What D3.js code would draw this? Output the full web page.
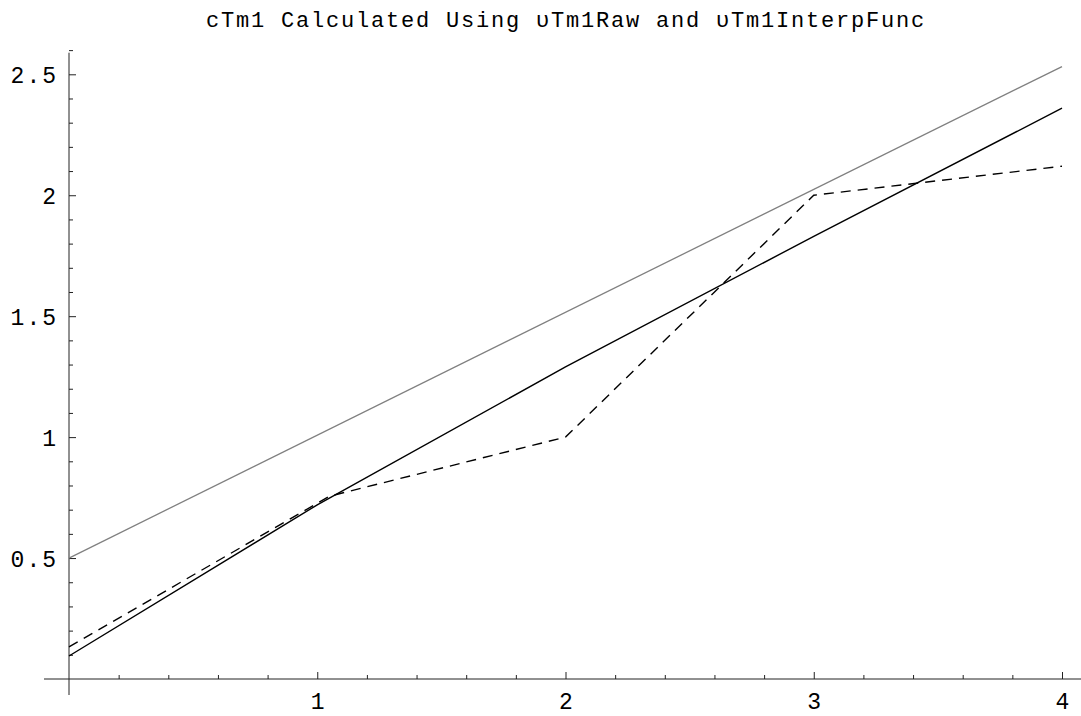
<!DOCTYPE html>
<html>
<head>
<meta charset="utf-8">
<script src="https://cdn.jsdelivr.net/npm/d3@7"></script>
<style>
  html, body { margin: 0; padding: 0; background: #fff; }
  svg { display: block; }
</style>
</head>
<body>
<svg id="chart" width="1081" height="716"></svg>
<script>
// Curve samples
const solidX = [0, 1, 2, 3, 4];
const solidY = [0.095, 0.72, 1.29, 1.83, 2.36];
const dashedX = [0, 1.05, 2, 3, 4];
const dashedY = [0.133, 0.756, 1.0, 2.0, 2.12];
const grayX = [0, 4];
const grayY = [0.5, 2.532];

// Axis ticks
const xMajor = [1, 2, 3, 4];
const xLabels = ["1", "2", "3", "4"];
const yMajor = [0.5, 1, 1.5, 2, 2.5];
const yLabels = ["0.5", "1", "1.5", "2", "2.5"];

const titleText = "cTm1 Calculated Using \u03C5Tm1Raw and \u03C5Tm1InterpFunc";

const svg = d3.select("#chart");

const x = d3.scaleLinear().domain([0, 4]).range([69, 1062]);
const y = d3.scaleLinear().domain([0, 2.5]).range([679, 74.3]);

const xMinor = d3.range(1, 21).map(i => i * 0.2).filter(v => !xMajor.some(m => Math.abs(m - v) < 1e-6));
const yMinor = d3.range(1, 27).map(i => i * 0.1).filter(v => !yMajor.some(m => Math.abs(m - v) < 1e-6));

const axisColor = "#222";
const fontFam = "'Liberation Mono', 'DejaVu Sans Mono', monospace";

// Axis lines
svg.append("line").attr("x1", 44).attr("x2", 1081).attr("y1", y(0)).attr("y2", y(0))
  .attr("stroke", axisColor).attr("stroke-width", 1);
svg.append("line").attr("x1", x(0)).attr("x2", x(0)).attr("y1", 52.7).attr("y2", 695)
  .attr("stroke", axisColor).attr("stroke-width", 1);

// X axis ticks (inward) and labels
const gx = svg.append("g").attr("transform", `translate(0,${y(0)})`);
gx.call(d3.axisBottom(x).tickValues(xMinor).tickSize(-4).tickFormat(""));
gx.call(g => g.select(".domain").remove());
const gx2 = svg.append("g").attr("transform", `translate(0,${y(0)})`);
gx2.call(d3.axisBottom(x).tickValues(xMajor).tickSize(-7).tickPadding(30)
  .tickFormat((d, i) => xLabels[i]));
gx2.call(g => g.select(".domain").remove());
svg.selectAll("g .tick line").attr("stroke", axisColor);
gx2.selectAll("text")
  .attr("font-family", fontFam).attr("font-size", 23).attr("fill", "#000")
  .attr("dy", 0).attr("dx", 0);

// Y axis ticks (inward) and labels
const gy = svg.append("g").attr("transform", `translate(${x(0)},0)`);
gy.call(d3.axisLeft(y).tickValues(yMinor).tickSize(-4).tickFormat(""));
gy.call(g => g.select(".domain").remove());
const gy2 = svg.append("g").attr("transform", `translate(${x(0)},0)`);
gy2.call(d3.axisLeft(y).tickValues(yMajor).tickSize(-7).tickPadding(12)
  .tickFormat((d, i) => yLabels[i]));
gy2.call(g => g.select(".domain").remove());
svg.selectAll("g .tick line").attr("stroke", axisColor);
gy2.selectAll("text")
  .attr("font-family", fontFam).attr("font-size", 23).attr("fill", "#000")
  .attr("letter-spacing", 2).attr("x", -11).attr("dy", "0.36em");

// Curves
const line = d3.line().x(d => x(d[0])).y(d => y(d[1]));

svg.append("path")
  .datum(d3.zip(grayX, grayY))
  .attr("d", line).attr("fill", "none")
  .attr("stroke", "#808080").attr("stroke-width", 1.3);

svg.append("path")
  .datum(d3.zip(solidX, solidY))
  .attr("d", line).attr("fill", "none")
  .attr("stroke", "#000").attr("stroke-width", 1.4);

svg.append("path")
  .datum(d3.zip(dashedX, dashedY))
  .attr("d", line).attr("fill", "none")
  .attr("stroke", "#000").attr("stroke-width", 1.4)
  .attr("stroke-dasharray", "10,7");

// Title
svg.append("text")
  .attr("x", 566).attr("y", 27)
  .attr("text-anchor", "middle")
  .attr("font-family", fontFam).attr("font-size", 22)
  .attr("letter-spacing", 1.8)
  .attr("fill", "#000")
  .text(titleText);
</script>
</body>
</html>
